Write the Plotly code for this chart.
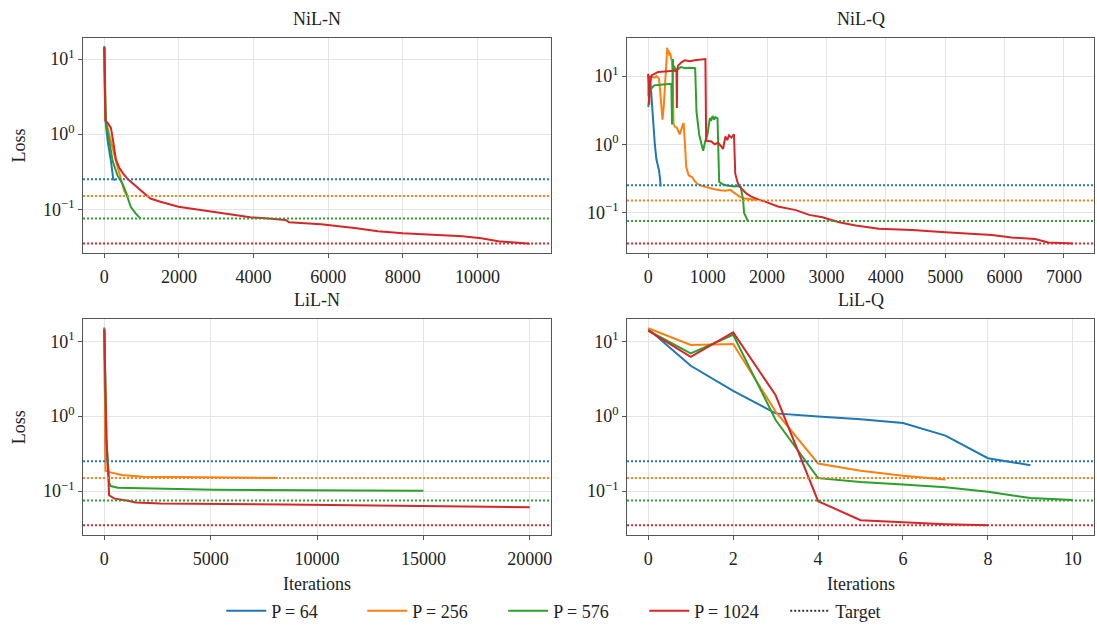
import plotly.graph_objects as go

FONT = "'Liberation Serif', 'Times New Roman', 'DejaVu Serif', serif"
FONT_SIZE = 18
TEXT_COLOR = "#222222"

series_names = ["P = 64", "P = 256", "P = 576", "P = 1024"]
series_colors = ["#1f77b4", "#ff7f0e", "#2ca02c", "#d62728"]
target_loss = [0.25, 0.15, 0.075, 0.035]
panel_titles = ["NiL-N", "NiL-Q", "LiL-N", "LiL-Q"]

# ---- NiL-N ----
nil_n_iters_64 = [0, 20, 45, 90, 177, 240, 300]
nil_n_loss_64 = [14.5, 2.0, 1.3, 0.81, 0.44, 0.25, 0.245]
nil_n_iters_256 = [0, 25, 90, 160, 222, 290, 355, 442, 530, 620]
nil_n_loss_256 = [14.3, 1.6, 1.2, 0.9, 0.66, 0.48, 0.36, 0.242, 0.179, 0.149]
nil_n_iters_576 = [0, 25, 45, 133, 222, 355, 487, 575, 640, 707, 840, 972]
nil_n_loss_576 = [14.9, 1.6, 1.41, 0.81, 0.44, 0.28, 0.218, 0.17, 0.135, 0.108, 0.088, 0.075]
nil_n_iters_1024 = [0, 30, 90, 177, 222, 310, 397, 500, 620, 800, 972, 1237, 1502, 1987,
                    2580, 3150, 3910, 4400, 4860, 4950, 5810, 6760, 7330, 8000, 8660, 9600,
                    10100, 10560, 11000, 11400]
nil_n_loss_1024 = [14.2, 1.5, 1.41, 1.21, 0.9, 0.46, 0.36, 0.3, 0.254, 0.21, 0.179, 0.139, 0.126,
                   0.108, 0.098, 0.088, 0.078, 0.075, 0.072, 0.067, 0.063, 0.056, 0.051, 0.048,
                   0.046, 0.0437, 0.041, 0.0376, 0.036, 0.0347]

# ---- NiL-Q ----
nil_q_iters_64 = [0, 15, 30, 50, 70, 90, 110, 137, 160, 182, 200, 210]
nil_q_loss_64 = [10.5, 7.0, 10.0, 5.5, 3.0, 1.6, 1.0, 0.6, 0.5, 0.41, 0.3, 0.24]
nil_q_iters_256 = [0, 10, 60, 100, 140, 180, 200, 220, 240, 260, 280, 300, 320, 330, 340, 355,
                   370, 385, 395, 410, 425, 450, 480, 505, 530, 550, 570, 595, 612, 640, 680,
                   735, 780, 820, 900, 990, 1100, 1210, 1300, 1380, 1460, 1530, 1600, 1700,
                   1820]
nil_q_loss_256 = [5.0, 8.5, 9.8, 9.5, 9.9, 9.2, 6.0, 3.0, 2.3, 3.5, 8.0, 15.0, 26.0, 22.0, 24.0,
                  20.0, 22.0, 18.0, 17.0, 12.0, 2.0, 1.8, 1.75, 1.55, 1.4, 1.6, 1.75, 2.05, 1.2,
                  0.46, 0.35, 0.33, 0.29, 0.265, 0.245, 0.232, 0.22, 0.212, 0.208, 0.214, 0.19,
                  0.172, 0.161, 0.158, 0.152]
nil_q_iters_576 = [0, 20, 55, 100, 250, 389, 400, 405, 415, 425, 437, 460, 500, 550, 620, 700,
                   790, 812, 857, 900, 924, 958, 997, 1037, 1060, 1082, 1110, 1130, 1166, 1194,
                   1250, 1306, 1380, 1446, 1500, 1558, 1597, 1614, 1670, 1690]
nil_q_loss_576 = [3.5, 5.5, 6.6, 7.3, 7.5, 7.7, 1.94, 10.0, 17.7, 12.0, 14.0, 12.0, 12.5, 13.5,
                  13.0, 13.2, 13.0, 3.0, 1.39, 1.0, 0.8, 1.1, 1.39, 2.42, 2.2, 2.6, 2.3, 2.5,
                  2.4, 0.28, 0.26, 0.25, 0.245, 0.24, 0.243, 0.236, 0.152, 0.098, 0.077, 0.075]
nil_q_iters_1024 = [0, 15, 25, 55, 166, 300, 475, 482, 488, 502, 558, 614, 700, 782, 880, 962,
                    975, 1062, 1120, 1174, 1220, 1258, 1300, 1330, 1360, 1400, 1443, 1465, 1510,
                    1577, 1650, 1734, 1850, 1958, 2182, 2487, 2710, 2934, 3213, 3493, 3884, 4443,
                    5003, 5339, 5785, 6121, 6514, 6737, 6905, 7150]
nil_q_loss_1024 = [10.8, 3.8, 7.5, 10.2, 11.5, 11.8, 12.0, 3.4, 12.5, 14.2, 15.9, 17.0, 16.5,
                   17.0, 17.3, 17.7, 1.12, 1.1, 1.0, 1.05, 0.95, 0.85, 1.3, 1.15, 1.35, 1.25,
                   1.4, 0.37, 0.264, 0.22, 0.19, 0.17, 0.155, 0.145, 0.122, 0.108, 0.092, 0.085,
                   0.0718, 0.0645, 0.0576, 0.055, 0.051, 0.0495, 0.0468, 0.0428, 0.0406, 0.0363,
                   0.036, 0.035]

# ---- LiL-N ----
lil_n_iters_64 = [0, 30, 60]
lil_n_loss_64 = [15.2, 1.5, 0.245]
lil_n_iters_256 = [0, 56, 300, 810, 1810, 5150, 8150]
lil_n_loss_256 = [14.8, 0.187, 0.178, 0.164, 0.156, 0.151, 0.150]
lil_n_iters_576 = [0, 100, 230, 300, 640, 1810, 5150, 11840, 15000]
lil_n_loss_576 = [14.6, 0.5, 0.13, 0.117, 0.111, 0.109, 0.104, 0.102, 0.101]
lil_n_iters_1024 = [0, 100, 200, 225, 475, 975, 1480, 2650, 8500, 15180, 20000]
lil_n_loss_1024 = [14.2, 0.5, 0.13, 0.088, 0.0794, 0.0758, 0.0705, 0.0684, 0.0664, 0.0638, 0.0612]

# ---- LiL-Q ----
lil_q_loss_64 = [14.6, 4.7, 2.17, 1.09, 0.987, 0.91, 0.81, 0.55, 0.275, 0.222]
lil_q_loss_256 = [14.9, 8.9, 9.2, 1.15, 0.234, 0.187, 0.161, 0.143]
lil_q_loss_576 = [13.8, 6.9, 12.2, 0.89, 0.149, 0.132, 0.123, 0.113, 0.098, 0.081, 0.076]
lil_q_loss_1024 = [13.8, 6.2, 13.1, 1.9, 0.0735, 0.041, 0.0385, 0.0363, 0.0352]

panels = [
    [(nil_n_iters_64, nil_n_loss_64), (nil_n_iters_256, nil_n_loss_256),
     (nil_n_iters_576, nil_n_loss_576), (nil_n_iters_1024, nil_n_loss_1024)],
    [(nil_q_iters_64, nil_q_loss_64), (nil_q_iters_256, nil_q_loss_256),
     (nil_q_iters_576, nil_q_loss_576), (nil_q_iters_1024, nil_q_loss_1024)],
    [(lil_n_iters_64, lil_n_loss_64), (lil_n_iters_256, lil_n_loss_256),
     (lil_n_iters_576, lil_n_loss_576), (lil_n_iters_1024, lil_n_loss_1024)],
    [(list(range(len(v))), v) for v in
     (lil_q_loss_64, lil_q_loss_256, lil_q_loss_576, lil_q_loss_1024)],
]

# axes layout: domains, x ranges/tick steps and log-y ranges per panel
col_domains = [[0.0757, 0.5023], [0.5716, 0.9973]]
row_domains = [[0.5913, 0.9392], [0.1365, 0.4852]]
x_ranges = [[-570, 11970], [-357.5, 7507.5], [-1000, 21000], [-0.5, 10.5]]
x_steps = [2000, 1000, 5000, 2]
y_ranges = [[-1.588, 1.284], [-1.601, 1.562], [-1.59, 1.294], [-1.59, 1.294]]

text_font = dict(family=FONT, size=FONT_SIZE, color=TEXT_COLOR)

fig = go.Figure()

for p, curves in enumerate(panels):
    ax = "" if p == 0 else str(p + 1)
    for s, (xs, ys) in enumerate(curves):
        fig.add_trace(go.Scatter(
            x=xs, y=ys, mode="lines", name=series_names[s], legendgroup=series_names[s],
            showlegend=(p == 0), line=dict(color=series_colors[s], width=2),
            xaxis="x" + ax, yaxis="y" + ax,
        ))
    for s, t in enumerate(target_loss):
        fig.add_shape(type="line", xref="x%s domain" % ax, yref="y" + ax,
                      x0=0, x1=1, y0=t, y1=t,
                      line=dict(color=series_colors[s], width=2, dash="2px,2px"))

fig.add_trace(go.Scatter(x=[None], y=[None], mode="lines", name="Target",
                         line=dict(color="#333333", width=2, dash="2px,2px")))

axis_style = dict(
    showline=True, mirror=True, linecolor="#555555", linewidth=1,
    ticks="outside", ticklen=4, tickwidth=1, tickcolor="#555555",
    showgrid=True, gridcolor="#e4e4e4", gridwidth=1, zeroline=False,
    tickfont=text_font,
)

layout_axes = {}
annotations = []
for p in range(4):
    r, c = divmod(p, 2)
    ax = "" if p == 0 else str(p + 1)
    layout_axes["xaxis" + ax] = dict(
        axis_style, domain=col_domains[c], anchor="y" + ax, range=x_ranges[p],
        tick0=0, dtick=x_steps[p], tickformat="d", ticklabelstandoff=3,
    )
    layout_axes["yaxis" + ax] = dict(
        axis_style, domain=row_domains[r], anchor="x" + ax, type="log", range=y_ranges[p],
        tickvals=[0.1, 1, 10],
        ticktext=["10<sup>\u22121</sup>", "10<sup>0</sup>", "10<sup>1</sup>"],
    )
    xc = sum(col_domains[c]) / 2
    annotations.append(dict(
        text=panel_titles[p], xref="paper", yref="paper", x=xc,
        y=row_domains[r][1] + 19 / 630, xanchor="center", yanchor="middle",
        showarrow=False, font=text_font,
    ))
    if c == 0:
        annotations.append(dict(
            text="Loss", xref="paper", yref="paper", x=19 / 1097,
            y=sum(row_domains[r]) / 2, xanchor="center", yanchor="middle",
            textangle=-90, showarrow=False, font=text_font,
        ))
    if r == 1:
        annotations.append(dict(
            text="Iterations", xref="paper", yref="paper", x=xc,
            y=(630 - 593) / 630, xanchor="center", yanchor="middle",
            showarrow=False, font=text_font,
        ))

fig.update_layout(
    width=1097, height=630,
    margin=dict(l=0, r=0, t=0, b=0),
    paper_bgcolor="white", plot_bgcolor="white",
    font=text_font,
    showlegend=True,
    legend=dict(orientation="h", x=0.523, y=(630 - 621) / 630, xanchor="center",
                yanchor="middle", font=text_font, bgcolor="rgba(0,0,0,0)",
                itemwidth=40, entrywidth=86, entrywidthmode="pixels"),
    annotations=annotations,
    **layout_axes,
)

fig.write_html("out.html")
